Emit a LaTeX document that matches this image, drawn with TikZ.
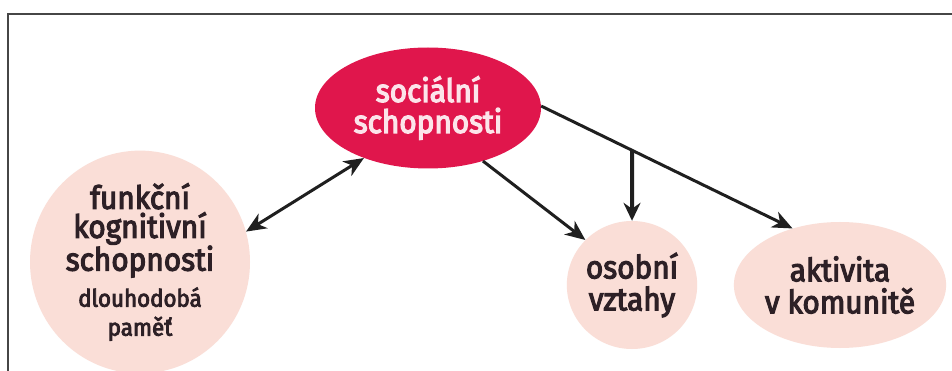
\documentclass[tikz,border=0pt]{standalone}
\usepackage{fontspec}
\setmainfont{Fira Sans}
\newfontfamily\pinkfont{Fira Sans}[FakeBold=3.5,FakeStretch=0.93]
\newfontfamily\redfont{Fira Sans}[FakeBold=4,FakeStretch=0.93]
\usetikzlibrary{shapes.geometric,arrows.meta,intersections}
\definecolor{socred}{RGB}{224,22,76}
\definecolor{softpink}{RGB}{250,222,215}
\definecolor{inktext}{RGB}{45,32,38}
\definecolor{redtext}{RGB}{252,228,234}
\definecolor{framegray}{RGB}{70,70,70}
\begin{document}
\begin{tikzpicture}[x=1pt,y=-1pt,
  bubble/.style={ellipse, fill=softpink, draw=none, inner sep=0pt, text=inktext, align=center,
    font=\pinkfont\fontsize{32}{32}\selectfont},
  hub/.style={ellipse, fill=socred, draw=none, inner sep=0pt, text=redtext, align=center,
    font=\redfont\fontsize{32}{31}\selectfont},
  link/.style={line width=3pt, draw=black!88, -{Stealth[length=20pt,width=17pt,inset=6pt]}},
  duallink/.style={line width=3pt, draw=black!88, {Stealth[length=20pt,width=17pt,inset=6pt]}-{Stealth[length=20pt,width=17pt,inset=6pt]}},
  droplink/.style={line width=4pt, draw=black!88, -{Stealth[length=18pt,width=17pt,inset=6pt]}},
  frameline/.style={draw=framegray, line width=1.8pt}
]
\useasboundingbox (0,0) rectangle (952,371);
\fill[white] (0,0) rectangle (952,371);
\draw[frameline] (8,371) -- (8,14) -- (952,14);

\node[hub, minimum width=226pt, minimum height=121pt] (soc) at (428,108) {sociální\\schopnosti};
\node[bubble, minimum width=220pt, minimum height=174pt, font=\pinkfont\fontsize{32}{29}\selectfont] (fun) at (140,262)
  {funkční\\kognitivní\\schopnosti\\[7pt]{\fontsize{24}{28}\selectfont dlouhodobá}\\{\fontsize{24}{28}\selectfont paměť}};
\node[bubble, minimum width=118pt, minimum height=128pt] (oso) at (632,285) {osobní\\vztahy};
\node[bubble, minimum width=206pt, minimum height=126pt] (akt) at (840,285) {aktivita\\v komunitě};

\draw[duallink] (fun.16.7) -- (soc.218.2);
\draw[link] (soc.316.5) -- (oso.136.2);
\draw[link, name path=mainline] (soc.1.6) -- (akt.130.8);
\path[name path=vertline] (oso.north) -- ++(0,-200);
\path[name intersections={of=mainline and vertline, by=junction}];
\draw[droplink] (junction) -- (oso.north);
\end{tikzpicture}
\end{document}
